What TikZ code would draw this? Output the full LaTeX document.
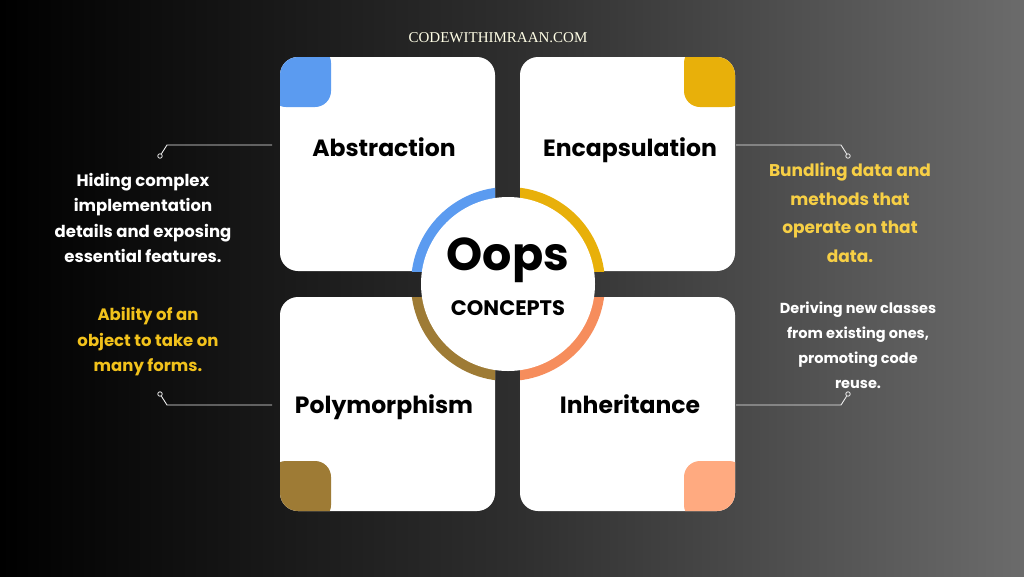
\documentclass[tikz,border=0pt]{standalone}
\usepackage{fontspec}
\setmainfont{Poppins}
\newfontfamily\serifcaps{Liberation Serif}
\definecolor{cblue}{HTML}{5B9BF0}
\definecolor{cgold}{HTML}{E8B00A}
\definecolor{cbrown}{HTML}{9E7B35}
\definecolor{corange}{HTML}{F68D5C}
\definecolor{cpeach}{HTML}{FFAA80}
\definecolor{tyellow}{HTML}{F2C21B}
\definecolor{tyellow2}{HTML}{F7CF45}
\tikzset{
  card/.style={fill=white, rounded corners=18pt},
  conn/.style={draw=white!85!gray, line width=0.9pt},
  dotend/.style={circle, draw=white!85!gray, line width=0.8pt, inner sep=0pt, minimum size=4.5pt, fill=none},
  title/.style={font=\bfseries\fontsize{23.5}{26}\selectfont, text=black, anchor=base},
  desc/.style={font=\bfseries\fontsize{16.5}{25.5}\selectfont, align=center},
}
\begin{document}
\begin{tikzpicture}[x=1pt,y=-1pt]
\useasboundingbox (0,0) rectangle (1024,576);
\shade[left color=black, right color=black!58, middle color=black!82] (0,0) rectangle (1024,576);
\node[text=white!90!yellow, font=\serifcaps\fontsize{15}{17}\selectfont] (site) at (498,38) {CODEWITHIMRAAN.COM};
% cards
\foreach \n/\x/\y in {tl/280/57, tr/520/57, bl/280/297, br/520/297}{
  \fill[card] (\x,\y) rectangle ++(215,214);
  \coordinate (\n) at (\x,\y);
}
% corner tabs
\begin{scope}
\clip[rounded corners=18pt] (280,57) rectangle (495,271);
\fill[cblue, rounded corners=16pt] (270,47) rectangle (331,107);
\end{scope}
\begin{scope}
\clip[rounded corners=18pt] (520,57) rectangle (735,271);
\fill[cgold, rounded corners=16pt] (684,47) rectangle (745,107);
\end{scope}
\begin{scope}
\clip[rounded corners=18pt] (280,297) rectangle (495,511);
\fill[cbrown, rounded corners=16pt] (270,461) rectangle (331,521);
\end{scope}
\begin{scope}
\clip[rounded corners=18pt] (520,297) rectangle (735,511);
\fill[cpeach, rounded corners=16pt] (684,461) rectangle (745,521);
\end{scope}
% ring
\coordinate (c) at (508,284);
\begin{scope}\clip (280,57) rectangle (495,271);
\fill[cblue] (c) circle (97);\end{scope}
\begin{scope}\clip (520,57) rectangle (735,271);
\fill[cgold] (c) circle (97);\end{scope}
\begin{scope}\clip (280,297) rectangle (495,511);
\fill[cbrown] (c) circle (97);\end{scope}
\begin{scope}\clip (520,297) rectangle (735,511);
\fill[corange] (c) circle (97);\end{scope}
\fill[white] (c) circle (87);
\node[font=\bfseries\fontsize{46}{50}\selectfont, anchor=base] (oops) at (508,270) {Oops};
\node[font=\bfseries\fontsize{21}{24}\selectfont, anchor=base] (concepts) at (508,315) {CONCEPTS};
% titles
\node[title] (abs) at (384,156) {Abstraction};
\node[title] (enc) at (630,156) {Encapsulation};
\node[title] (poly) at (384,413) {Polymorphism};
\node[title] (inh) at (630,413) {Inheritance};
% descriptions
\node[desc, text=white] (d1) at (143,218) {Hiding complex\\implementation\\details and exposing\\essential features.};
\node[desc, text=tyellow] (d2) at (148,342) {Ability of an\\object to take on\\many forms.};
\node[desc, text=tyellow2, font=\bfseries\fontsize{17}{28.5}\selectfont] (d3) at (850,213) {Bundling data and\\methods that\\operate on that\\data.};
\node[desc, text=white, font=\bfseries\fontsize{14.5}{25}\selectfont] (d4) at (858,345) {Deriving new classes\\from existing ones,\\promoting code\\reuse.};
% connectors
\node[dotend] (e1) at (160,156) {};
\node[dotend] (e2) at (848,156) {};
\node[dotend] (e3) at (160,394) {};
\node[dotend] (e4) at (848,394) {};
\coordinate (s1) at (272,145); \coordinate (s2) at (736,145);
\coordinate (s3) at (272,405); \coordinate (s4) at (736,405);
\draw[conn] (s1) -- (167,145) -- (e1);
\draw[conn] (s2) -- (841,145) -- (e2);
\draw[conn] (s3) -- (167,405) -- (e3);
\draw[conn] (s4) -- (841,405) -- (e4);
\end{tikzpicture}
\end{document}
